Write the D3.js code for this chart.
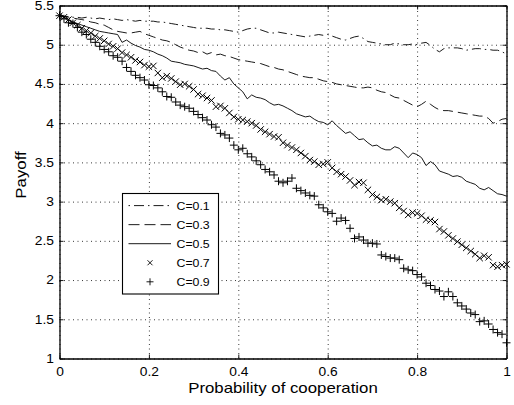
<!DOCTYPE html>
<html>
<head>
<meta charset="utf-8">
<script src="https://cdn.jsdelivr.net/npm/d3@7"></script>
<style>
  body { margin: 0; background: #fff; }
  text { font-family: "Liberation Sans", Arial, Helvetica, sans-serif; fill: #000; }
</style>
</head>
<body>
<svg id="chart"></svg>
<script>
const width = 514;
const height = 405;

// probability of cooperation (x) and payoff for each C
const prob = [
  0.00, 0.01, 0.02, 0.03, 0.04, 0.05, 0.06, 0.07, 0.08, 0.09,
  0.10, 0.11, 0.12, 0.13, 0.14, 0.15, 0.16, 0.17, 0.18, 0.19,
  0.20, 0.21, 0.22, 0.23, 0.24, 0.25, 0.26, 0.27, 0.28, 0.29,
  0.30, 0.31, 0.32, 0.33, 0.34, 0.35, 0.36, 0.37, 0.38, 0.39,
  0.40, 0.41, 0.42, 0.43, 0.44, 0.45, 0.46, 0.47, 0.48, 0.49,
  0.50, 0.51, 0.52, 0.53, 0.54, 0.55, 0.56, 0.57, 0.58, 0.59,
  0.60, 0.61, 0.62, 0.63, 0.64, 0.65, 0.66, 0.67, 0.68, 0.69,
  0.70, 0.71, 0.72, 0.73, 0.74, 0.75, 0.76, 0.77, 0.78, 0.79,
  0.80, 0.81, 0.82, 0.83, 0.84, 0.85, 0.86, 0.87, 0.88, 0.89,
  0.90, 0.91, 0.92, 0.93, 0.94, 0.95, 0.96, 0.97, 0.98, 0.99,
  1.00
];

const payoffC01 = [
  5.37, 5.36, 5.36, 5.35, 5.35, 5.34, 5.35, 5.34, 5.33, 5.34,
  5.33, 5.32, 5.33, 5.32, 5.31, 5.32, 5.31, 5.30, 5.31, 5.30,
  5.30, 5.30, 5.29, 5.29, 5.28, 5.27, 5.26, 5.25, 5.24, 5.23,
  5.22, 5.21, 5.21, 5.21, 5.20, 5.20, 5.19, 5.19, 5.18, 5.17,
  5.16, 5.18, 5.20, 5.21, 5.21, 5.19, 5.17, 5.15, 5.15, 5.16,
  5.15, 5.14, 5.13, 5.12, 5.11, 5.10, 5.11, 5.12, 5.13, 5.12,
  5.13, 5.11, 5.09, 5.07, 5.06, 5.08, 5.10, 5.11, 5.08, 5.04,
  5.03, 5.02, 5.01, 5.00, 5.00, 5.02, 5.01, 5.00, 5.00, 5.01,
  5.00, 5.02, 5.03, 4.99, 4.94, 4.91, 4.95, 4.96, 4.96, 4.96,
  4.95, 4.93, 4.94, 4.95, 4.95, 4.94, 4.94, 4.93, 4.93, 4.91,
  4.88
];

const payoffC03 = [
  5.37, 5.36, 5.35, 5.34, 5.33, 5.32, 5.31, 5.29, 5.28, 5.26,
  5.25, 5.22, 5.19, 5.17, 5.16, 5.15, 5.15, 5.16, 5.17, 5.14,
  5.12, 5.10, 5.08, 5.06, 5.05, 5.03, 5.00, 4.97, 4.95, 4.93,
  4.92, 4.90, 4.91, 4.88, 4.90, 4.87, 4.88, 4.86, 4.85, 4.83,
  4.81, 4.80, 4.79, 4.78, 4.77, 4.76, 4.74, 4.72, 4.71, 4.69,
  4.68, 4.66, 4.64, 4.62, 4.60, 4.59, 4.58, 4.58, 4.56, 4.54,
  4.53, 4.52, 4.50, 4.49, 4.48, 4.47, 4.46, 4.45, 4.45, 4.46,
  4.45, 4.42, 4.40, 4.39, 4.36, 4.33, 4.32, 4.29, 4.26, 4.23,
  4.21, 4.24, 4.28, 4.24, 4.20, 4.17, 4.16, 4.16, 4.15, 4.14,
  4.13, 4.12, 4.11, 4.10, 4.09, 4.09, 4.06, 4.00, 4.02, 4.05,
  4.06
];

const payoffC05 = [
  5.37, 5.35, 5.32, 5.29, 5.27, 5.25, 5.23, 5.21, 5.19, 5.17,
  5.16, 5.15, 5.14, 5.13, 5.03, 5.06, 5.02, 4.99, 4.97, 4.94,
  4.93, 4.91, 4.88, 4.86, 4.83, 4.79, 4.78, 4.77, 4.75, 4.74,
  4.73, 4.71, 4.69, 4.70, 4.67, 4.66, 4.60, 4.55, 4.58, 4.50,
  4.45, 4.40, 4.31, 4.36, 4.33, 4.32, 4.30, 4.26, 4.23, 4.24,
  4.22, 4.19, 4.16, 4.12, 4.10, 4.08, 4.09, 4.05, 4.02, 4.01,
  3.98, 4.03, 3.97, 3.92, 3.87, 3.89, 3.84, 3.79, 3.80, 3.75,
  3.71, 3.72, 3.68, 3.66, 3.66, 3.70, 3.68, 3.62, 3.56, 3.62,
  3.60, 3.56, 3.46, 3.51, 3.47, 3.39, 3.37, 3.35, 3.32, 3.33,
  3.31, 3.26, 3.24, 3.22, 3.17, 3.15, 3.18, 3.14, 3.10, 3.09,
  3.07
];

const payoffC07 = [
  5.37, 5.35, 5.32, 5.28, 5.25, 5.21, 5.18, 5.15, 5.11, 5.08,
  5.05, 5.01, 4.98, 4.95, 4.90, 4.87, 4.84, 4.80, 4.78, 4.74,
  4.72, 4.73, 4.64, 4.58, 4.60, 4.57, 4.53, 4.49, 4.50, 4.47,
  4.43, 4.37, 4.35, 4.32, 4.29, 4.21, 4.22, 4.19, 4.13, 4.08,
  4.05, 4.04, 4.02, 4.00, 3.97, 3.92, 3.89, 3.86, 3.83, 3.82,
  3.75, 3.72, 3.69, 3.66, 3.62, 3.58, 3.53, 3.51, 3.47, 3.48,
  3.50, 3.43, 3.38, 3.35, 3.32, 3.27, 3.21, 3.25, 3.24, 3.15,
  3.09, 3.06, 3.02, 3.03, 3.00, 2.98, 2.92, 2.88, 2.83, 2.86,
  2.85, 2.82, 2.77, 2.76, 2.74, 2.65, 2.62, 2.57, 2.53, 2.49,
  2.45, 2.41, 2.37, 2.33, 2.28, 2.31, 2.29, 2.19, 2.17, 2.19,
  2.20
];

const payoffC09 = [
  5.37, 5.33, 5.28, 5.27, 5.22, 5.16, 5.13, 5.07, 5.03, 4.98,
  4.94, 4.91, 4.86, 4.84, 4.79, 4.71, 4.66, 4.61, 4.58, 4.55,
  4.49, 4.48, 4.45, 4.40, 4.34, 4.33, 4.27, 4.23, 4.21, 4.19,
  4.15, 4.11, 4.07, 4.04, 3.98, 3.95, 3.87, 3.85, 3.81, 3.72,
  3.66, 3.68, 3.61, 3.57, 3.52, 3.47, 3.41, 3.38, 3.34, 3.26,
  3.24, 3.26, 3.30, 3.17, 3.14, 3.11, 3.08, 3.07, 2.96, 2.92,
  2.87, 2.85, 2.75, 2.79, 2.76, 2.66, 2.53, 2.55, 2.51, 2.47,
  2.47, 2.46, 2.32, 2.30, 2.28, 2.28, 2.26, 2.15, 2.13, 2.12,
  2.07, 2.04, 1.96, 1.93, 1.88, 1.86, 1.79, 1.85, 1.79, 1.71,
  1.67, 1.63, 1.58, 1.56, 1.47, 1.48, 1.44, 1.37, 1.33, 1.31,
  1.20
];

const seriesNames = ["C=0.1", "C=0.3", "C=0.5", "C=0.7", "C=0.9"];
const xTicks = [0, 0.2, 0.4, 0.6, 0.8, 1];
const xTickLabels = ["0", "0.2", "0.4", "0.6", "0.8", "1"];
const yTicks = [1, 1.5, 2, 2.5, 3, 3.5, 4, 4.5, 5, 5.5];
const yTickLabels = ["1", "1.5", "2", "2.5", "3", "3.5", "4", "4.5", "5", "5.5"];

const series = [
  { name: seriesNames[0], values: payoffC01, style: "dashdot" },
  { name: seriesNames[1], values: payoffC03, style: "dashed" },
  { name: seriesNames[2], values: payoffC05, style: "solid" },
  { name: seriesNames[3], values: payoffC07, style: "cross" },
  { name: seriesNames[4], values: payoffC09, style: "plus" }
];

const dashFor = { dashdot: "9,4,1.5,4", dashed: "10,5", solid: null };
const legendDashFor = { dashdot: "1.5,4,10,4", dashed: "11,5", solid: null };
const markerPath = {
  cross: "M-3.2,-3.2L3.2,3.2M-3.2,3.2L3.2,-3.2",
  plus: "M-4,0H4M0,-4V4"
};
const legendMarkerPath = {
  cross: "M-2.5,-2.5L2.5,2.5M-2.5,2.5L2.5,-2.5",
  plus: "M-3.5,0H3.5M0,-3.5V3.5"
};

const stretch = 1.12; // reference text is a bit wider than Liberation Sans
function widen(sel) {
  sel.each(function () {
    const len = this.getComputedTextLength();
    if (len > 0) {
      d3.select(this)
        .attr("textLength", len * stretch)
        .attr("lengthAdjust", "spacingAndGlyphs");
    }
  });
}

const svg = d3.select("#chart").attr("width", width).attr("height", height);
svg.append("rect").attr("width", width).attr("height", height).attr("fill", "#fff");

const plotLeft = 59.5, plotRight = 506.5, plotTop = 5.5, plotBottom = 358.5;

const xScale = d3.scaleLinear().domain([0, 1]).range([plotLeft, plotRight]);
const yScale = d3.scaleLinear().domain([1, 5.5]).range([plotBottom, plotTop]);

// dotted grid
svg.append("g")
  .attr("transform", `translate(0, ${plotBottom})`)
  .call(d3.axisBottom(xScale).tickValues(xTicks).tickSize(-(plotBottom - plotTop)).tickFormat(""))
  .call((g) => g.select(".domain").remove())
  .selectAll("line")
  .attr("stroke", "#222")
  .attr("stroke-width", 0.9)
  .attr("stroke-dasharray", "1,3.5");

svg.append("g")
  .attr("transform", `translate(${plotLeft}, 0)`)
  .call(d3.axisLeft(yScale).tickValues(yTicks).tickSize(-(plotRight - plotLeft)).tickFormat(""))
  .call((g) => g.select(".domain").remove())
  .selectAll("line")
  .attr("stroke", "#222")
  .attr("stroke-width", 0.9)
  .attr("stroke-dasharray", "1,3.5");

// data lines
const line = d3.line()
  .x((d, i) => xScale(prob[i]))
  .y((d) => yScale(d));

series.filter((s) => s.style in dashFor).forEach((s) => {
  svg.append("path")
    .datum(s.values)
    .attr("fill", "none")
    .attr("stroke", "#000")
    .attr("stroke-width", 0.9)
    .attr("stroke-dasharray", dashFor[s.style])
    .attr("d", line);
});

// markers
series.filter((s) => s.style in markerPath).forEach((s) => {
  svg.append("g")
    .selectAll("path")
    .data(s.values)
    .join("path")
    .attr("transform", (d, i) => `translate(${xScale(prob[i])}, ${yScale(d)})`)
    .attr("d", markerPath[s.style])
    .attr("fill", "none")
    .attr("stroke", "#000")
    .attr("stroke-width", 1);
});

// axes with inward ticks on all four sides
const xAxis = d3.axisBottom(xScale).tickValues(xTicks)
  .tickFormat((d, i) => xTickLabels[i]).tickSizeInner(-4).tickSizeOuter(0).tickPadding(8.5);
const yAxis = d3.axisLeft(yScale).tickValues(yTicks)
  .tickFormat((d, i) => yTickLabels[i]).tickSizeInner(-4).tickSizeOuter(0).tickPadding(5.5);

const gx = svg.append("g").attr("transform", `translate(0, ${plotBottom})`).call(xAxis);
const gy = svg.append("g").attr("transform", `translate(${plotLeft}, 0)`).call(yAxis);
svg.append("g").attr("transform", `translate(0, ${plotTop})`)
  .call(d3.axisTop(xScale).tickValues(xTicks).tickFormat("").tickSizeInner(-4).tickSizeOuter(0));
svg.append("g").attr("transform", `translate(${plotRight}, 0)`)
  .call(d3.axisRight(yScale).tickValues(yTicks).tickFormat("").tickSizeInner(-4).tickSizeOuter(0));

svg.selectAll(".domain").attr("stroke", "#000").attr("stroke-width", 1.3);
svg.selectAll(".tick line").filter(function () { return !this.getAttribute("stroke-dasharray"); })
  .attr("stroke", "#000").attr("stroke-width", 0.9);

[gx, gy].forEach((g) => {
  g.selectAll("text")
    .style("font-family", '"Liberation Sans", Arial, sans-serif')
    .style("font-size", "12.3px")
    .attr("fill", "#000")
    .call(widen);
});

// axis labels
svg.append("text")
  .attr("x", (plotLeft + plotRight) / 2)
  .attr("y", 393.3)
  .attr("text-anchor", "middle")
  .style("font-size", "15px")
  .text("Probability of cooperation")
  .call(widen);

svg.append("text")
  .attr("transform", "translate(26, 175) rotate(-90)")
  .attr("text-anchor", "middle")
  .style("font-size", "15px")
  .text("Payoff")
  .call(widen);

// legend
const legend = svg.append("g");
legend.append("rect")
  .attr("x", 122.5).attr("y", 193.5)
  .attr("width", 96).attr("height", 100.5)
  .attr("fill", "#fff").attr("stroke", "#000").attr("stroke-width", 1.1);

series.forEach((s, i) => {
  const ly = 205.6 + i * 19.05;
  if (s.style in legendDashFor) {
    legend.append("line")
      .attr("x1", 128.5).attr("x2", 171).attr("y1", ly).attr("y2", ly)
      .attr("stroke", "#000").attr("stroke-width", 0.9)
      .attr("stroke-dasharray", legendDashFor[s.style]);
  } else {
    legend.append("path")
      .attr("transform", `translate(150, ${ly})`)
      .attr("d", legendMarkerPath[s.style])
      .attr("fill", "none").attr("stroke", "#000").attr("stroke-width", 0.9);
  }
  legend.append("text")
    .attr("x", 176.5).attr("y", ly + 4)
    .style("font-size", "11px")
    .text(s.name)
    .call(widen);
});
</script>
</body>
</html>
